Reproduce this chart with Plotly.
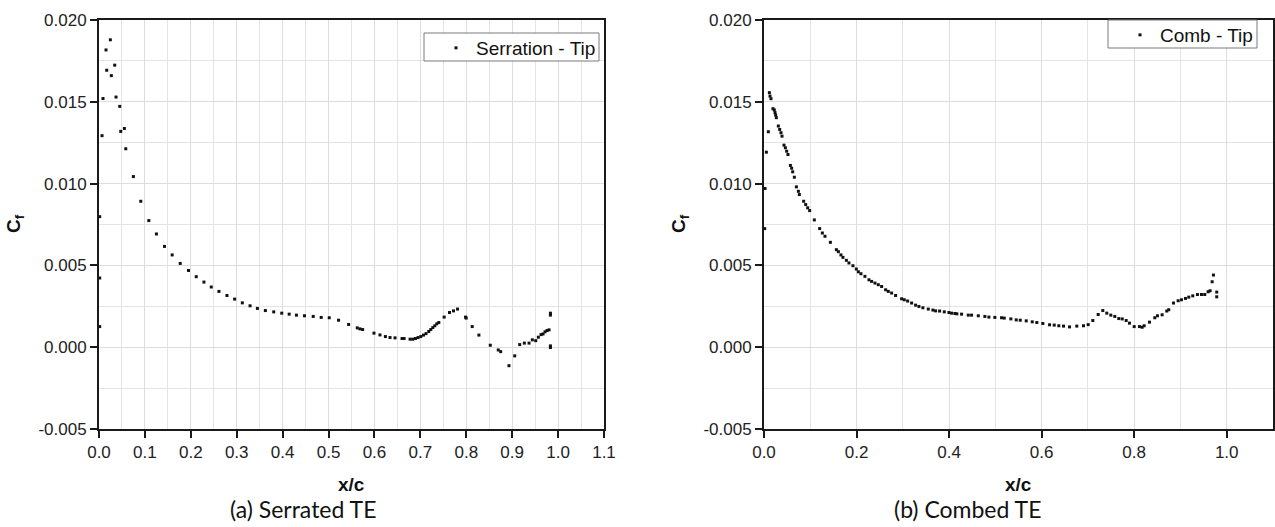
import plotly.graph_objects as go

W, H = 1275, 527

# Serrated TE (tip)
serr_x = [0.0015, 0.0015, 0.0015, 0.0066, 0.0087, 0.0153, 0.0168, 0.0247, 0.0269, 0.0342, 0.0371, 0.0452,
          0.0474, 0.0553, 0.0583, 0.0749, 0.0910, 0.1085, 0.1251, 0.1426, 0.1594, 0.1769, 0.1950, 0.2118,
          0.2286, 0.2445, 0.2613, 0.2787, 0.2954, 0.3122, 0.3290, 0.3450, 0.3624, 0.3806, 0.3981, 0.4142,
          0.4301, 0.4476, 0.4666, 0.4840, 0.5015, 0.5218, 0.5437, 0.5626, 0.5683, 0.5742, 0.5989, 0.6120,
          0.6238, 0.6339, 0.6448, 0.6601, 0.6645, 0.6776, 0.6834, 0.6893, 0.6950, 0.7009, 0.7068, 0.7124,
          0.7183, 0.7227, 0.7271, 0.7314, 0.7358, 0.7402, 0.7518, 0.7635, 0.7722, 0.7810, 0.7984, 0.7998,
          0.8129, 0.8275, 0.8523, 0.8697, 0.8749, 0.8930, 0.9055, 0.9164, 0.9265, 0.9367, 0.9439, 0.9513,
          0.9570, 0.9629, 0.9672, 0.9716, 0.9760, 0.9803, 0.9833, 0.9833, 0.9833, 0.9833]
serr_cf = [0.00798, 0.00423, 0.00126, 0.01293, 0.01520, 0.01817, 0.01693, 0.01879, 0.01660, 0.01724, 0.01529, 0.01472,
           0.01319, 0.01337, 0.01213, 0.01043, 0.00892, 0.00774, 0.00692, 0.00616, 0.00564, 0.00512, 0.00469, 0.00431,
           0.00398, 0.00368, 0.00341, 0.00316, 0.00294, 0.00271, 0.00253, 0.00237, 0.00224, 0.00216, 0.00208, 0.00202,
           0.00196, 0.00192, 0.00188, 0.00182, 0.00180, 0.00165, 0.00139, 0.00118, 0.00112, 0.00108, 0.00086, 0.00075,
           0.00065, 0.00059, 0.00057, 0.00053, 0.00053, 0.00049, 0.00049, 0.00053, 0.00059, 0.00065, 0.00074, 0.00083,
           0.00096, 0.00108, 0.00120, 0.00131, 0.00143, 0.00151, 0.00184, 0.00212, 0.00222, 0.00233, 0.00184, 0.00178,
           0.00126, 0.00074, 0.00012, -0.00017, -0.00027, -0.00113, -0.00053, 0.00016, 0.00025, 0.00025, 0.00045, 0.00040,
           0.00061, 0.00077, 0.00081, 0.00094, 0.00102, 0.00106, 0.00196, 0.00208, 0.00008, -0.00002]

# Combed TE (tip)
comb_x = [0.0015, 0.0022, 0.0051, 0.0094, 0.0116, 0.0130, 0.0151, 0.0194, 0.0223, 0.0238, 0.0252, 0.0267,
          0.0310, 0.0339, 0.0367, 0.0389, 0.0432, 0.0462, 0.0490, 0.0518, 0.0570, 0.0598, 0.0620, 0.0656,
          0.0700, 0.0743, 0.0764, 0.0857, 0.0901, 0.0944, 0.0987, 0.1088, 0.1203, 0.1261, 0.1318, 0.1434,
          0.1564, 0.1607, 0.1663, 0.1706, 0.1780, 0.1836, 0.1922, 0.1995, 0.2039, 0.2095, 0.2181, 0.2268,
          0.2326, 0.2398, 0.2470, 0.2542, 0.2629, 0.2686, 0.2758, 0.2844, 0.2974, 0.3032, 0.3104, 0.3190,
          0.3276, 0.3348, 0.3434, 0.3550, 0.3650, 0.3708, 0.3795, 0.3896, 0.3996, 0.4054, 0.4126, 0.4168,
          0.4270, 0.4415, 0.4486, 0.4631, 0.4773, 0.4860, 0.4989, 0.5134, 0.5192, 0.5335, 0.5451, 0.5538,
          0.5667, 0.5797, 0.5896, 0.6026, 0.6171, 0.6272, 0.6371, 0.6473, 0.6603, 0.6760, 0.6905, 0.7006,
          0.7106, 0.7222, 0.7322, 0.7408, 0.7495, 0.7581, 0.7667, 0.7741, 0.7827, 0.7898, 0.8000, 0.8114,
          0.8172, 0.8216, 0.8330, 0.8445, 0.8503, 0.8604, 0.8704, 0.8747, 0.8849, 0.8950, 0.9022, 0.9108,
          0.9180, 0.9266, 0.9367, 0.9454, 0.9525, 0.9598, 0.9641, 0.9685, 0.9713, 0.9784, 0.9784]
comb_cf = [0.00725, 0.00970, 0.01192, 0.01317, 0.01556, 0.01535, 0.01519, 0.01458, 0.01450, 0.01434, 0.01419, 0.01403,
           0.01352, 0.01331, 0.01311, 0.01290, 0.01235, 0.01219, 0.01198, 0.01178, 0.01111, 0.01094, 0.01072, 0.01039,
           0.00980, 0.00953, 0.00933, 0.00892, 0.00872, 0.00852, 0.00835, 0.00778, 0.00725, 0.00698, 0.00678, 0.00641,
           0.00596, 0.00584, 0.00564, 0.00549, 0.00531, 0.00515, 0.00498, 0.00478, 0.00461, 0.00449, 0.00433, 0.00412,
           0.00402, 0.00392, 0.00382, 0.00371, 0.00351, 0.00341, 0.00331, 0.00316, 0.00296, 0.00290, 0.00282, 0.00270,
           0.00257, 0.00249, 0.00241, 0.00233, 0.00227, 0.00222, 0.00221, 0.00216, 0.00212, 0.00208, 0.00206, 0.00204,
           0.00202, 0.00196, 0.00196, 0.00192, 0.00188, 0.00184, 0.00182, 0.00180, 0.00178, 0.00173, 0.00167, 0.00165,
           0.00161, 0.00155, 0.00151, 0.00145, 0.00137, 0.00135, 0.00131, 0.00129, 0.00124, 0.00129, 0.00131, 0.00138,
           0.00163, 0.00200, 0.00224, 0.00208, 0.00196, 0.00188, 0.00175, 0.00173, 0.00163, 0.00147, 0.00126, 0.00126,
           0.00122, 0.00131, 0.00153, 0.00180, 0.00192, 0.00198, 0.00221, 0.00229, 0.00270, 0.00284, 0.00290, 0.00298,
           0.00306, 0.00314, 0.00322, 0.00322, 0.00322, 0.00339, 0.00345, 0.00400, 0.00441, 0.00337, 0.00308]

series_names = ["Serration - Tip", "Comb - Tip"]
captions = ["(a) Serrated TE", "(b) Combed TE"]
x_title = "x/c"
y_title = "C<sub>f</sub>"
y_tickvals = [-0.005, 0.000, 0.005, 0.010, 0.015, 0.020]
y_ticktext = ["-0.005", "0.000", "0.005", "0.010", "0.015", "0.020"]

AX_FONT = "Liberation Sans"
GRID = "#dddddd"
marker = dict(symbol="square", size=3, color="#111111", line=dict(width=0))

fig = go.Figure()
fig.add_trace(go.Scatter(x=serr_x, y=serr_cf, mode="markers", marker=marker, name=series_names[0],
                         xaxis="x", yaxis="y", legend="legend"))
fig.add_trace(go.Scatter(x=comb_x, y=comb_cf, mode="markers", marker=marker, name=series_names[1],
                         xaxis="x2", yaxis="y2", legend="legend2"))

ydom = [1 - 429 / H, 1 - 20 / H]
common_axis = dict(
    showline=True, linewidth=2, linecolor="#1a1a1a", mirror=True, automargin=False,
    ticks="outside", ticklen=7, tickwidth=2, tickcolor="#1a1a1a",
    showgrid=True, gridcolor=GRID, gridwidth=1, zeroline=False,
    tickfont=dict(family=AX_FONT, size=17, color="#222222"),
)
ycommon = dict(range=[-0.005, 0.020], tickmode="array", tickvals=y_tickvals, ticktext=y_ticktext,
               minor=dict(dtick=0.0025, tick0=0, showgrid=True, gridcolor="#e4e4e4", ticks=""))

fig.update_layout(
    width=W, height=H, margin=dict(l=0, r=0, t=0, b=0, pad=0, autoexpand=False),
    paper_bgcolor="white", plot_bgcolor="white",
    xaxis=dict(domain=[99 / W, 604 / W], range=[0, 1.1], dtick=0.1, tick0=0, tickformat=".1f",
               minor=dict(dtick=0.05, showgrid=True, gridcolor="#e4e4e4", ticks=""),
               anchor="y", **common_axis),
    yaxis=dict(domain=ydom, anchor="x", **ycommon, **common_axis),
    xaxis2=dict(domain=[764 / W, 1273 / W], range=[0, 1.1], dtick=0.2, tick0=0, tickformat=".1f",
                minor=dict(dtick=0.1, showgrid=True, gridcolor="#e4e4e4", ticks=""),
                anchor="y2", **common_axis),
    yaxis2=dict(domain=ydom, anchor="x2", **ycommon, **common_axis),
    legend=dict(x=436 / W, y=1 - 29 / H, xanchor="left", yanchor="top",
                bgcolor="rgba(0,0,0,0)", borderwidth=0,
                font=dict(family=AX_FONT, size=19, color="#111111")),
    legend2=dict(x=1120 / W, y=1 - 16 / H, xanchor="left", yanchor="top",
                 bgcolor="rgba(0,0,0,0)", borderwidth=0,
                 font=dict(family=AX_FONT, size=19, color="#111111")),
    showlegend=True,
)

# legend frames
for (x0, y0, x1, y1) in [(424, 33, 599, 61), (1108, 20, 1257, 48)]:
    fig.add_shape(type="rect", xref="paper", yref="paper", x0=x0 / W, x1=x1 / W,
                  y0=1 - y1 / H, y1=1 - y0 / H, fillcolor="white",
                  line=dict(color="#7a7a7a", width=1), layer="above")

ann = []
for cx in [351.5, 1018.5]:
    ann.append(dict(text="<b>" + x_title + "</b>", x=cx / W, y=1 - 484 / H, xref="paper", yref="paper",
                    showarrow=False, xanchor="center", yanchor="middle",
                    font=dict(family=AX_FONT, size=19, color="#111111")))
for cx in [15, 680]:
    ann.append(dict(text="<b>" + y_title + "</b>", x=cx / W, y=1 - 224 / H, xref="paper", yref="paper",
                    showarrow=False, xanchor="center", yanchor="middle", textangle=-90,
                    font=dict(family=AX_FONT, size=19, color="#111111")))
for cx, cap in zip([228, 892], captions):
    ann.append(dict(text=cap, x=cx / W, y=1 - 509 / H, xref="paper", yref="paper",
                    showarrow=False, xanchor="left", yanchor="middle",
                    font=dict(family="Lato", size=23, color="#111111")))
fig.update_layout(annotations=ann)

fig.write_html("out.html")

with open("out.html", "r", encoding="utf-8") as f:
    html = f.read()
html = html.replace("<head>", "<head><style>html,body{margin:0;padding:0;overflow:hidden;}</style>", 1)
with open("out.html", "w", encoding="utf-8") as f:
    f.write(html)
